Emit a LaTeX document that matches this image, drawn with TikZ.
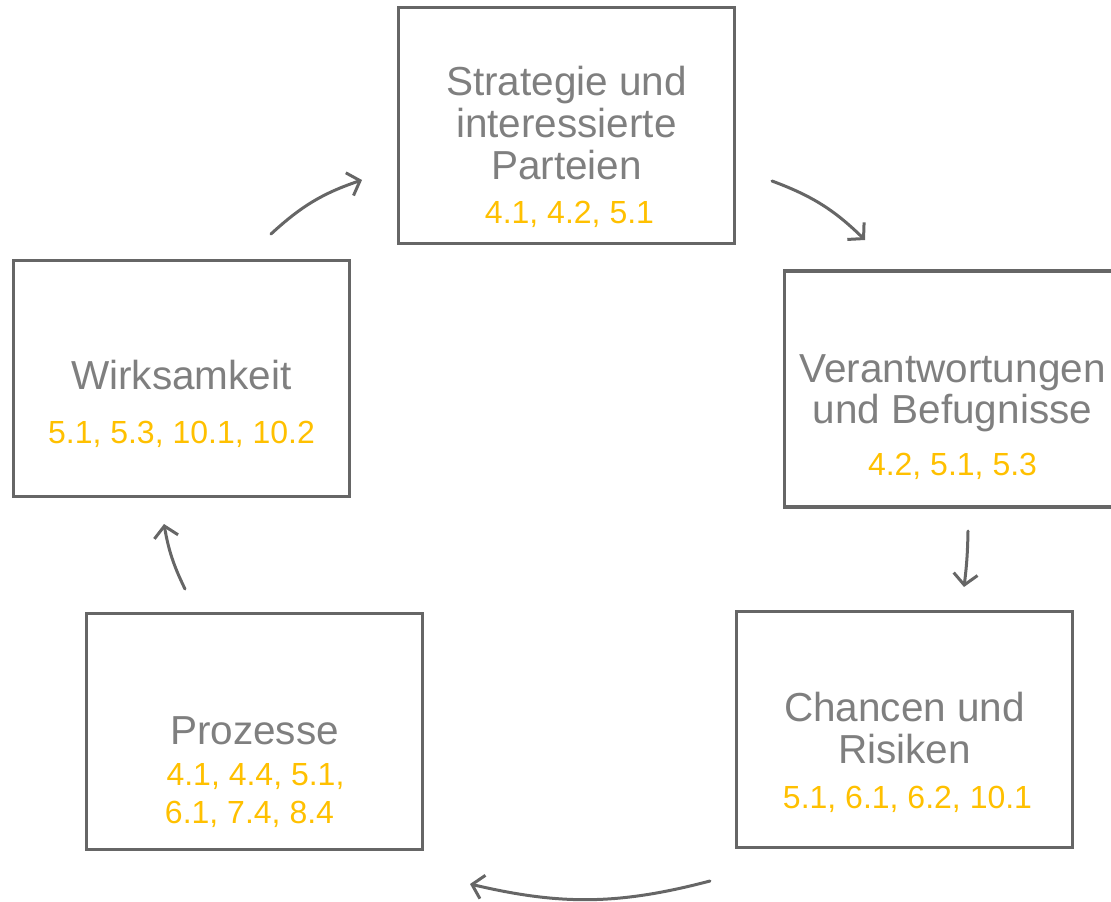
\documentclass[tikz,border=0pt]{standalone}
\usepackage{fontspec}
\setmainfont{Liberation Sans}
\usetikzlibrary{arrows.meta}
\definecolor{boxgray}{HTML}{666666}
\definecolor{txtgray}{HTML}{7F7F7F}
\definecolor{numyellow}{HTML}{FFC000}
\tikzset{
  stagebox/.style={draw=boxgray, line width=3.2pt, minimum width=336pt, minimum height=236pt, inner sep=0pt},
  ttl/.style={anchor=base, text=txtgray, inner sep=0pt, font=\fontsize{40.5}{42}\selectfont},
  num/.style={anchor=base, text=numyellow, inner sep=0pt, font=\fontsize{32}{36}\selectfont},
  flow/.style={draw=boxgray, line width=3pt, line cap=round, -{Straight Barb[length=11pt,width=24pt,line width=3pt]}}
}
\begin{document}
\begin{tikzpicture}[x=1pt,y=-1pt]
\useasboundingbox (0,0) rectangle (1111,902);
% boxes
\node[stagebox] (top) at (566.5,125.5) {};
\node[stagebox] (right) at (952.5,389) {};
\node[stagebox] (br) at (904.5,729.5) {};
\node[stagebox] (bl) at (254.5,731.5) {};
\node[stagebox] (left) at (181.5,378.5) {};
% texts
\node[ttl] (t1) at (566.5,95) {Strategie und};
\node[ttl] (t2) at (566.5,137) {interessierte};
\node[ttl] (t3) at (566.5,179) {Parteien};
\node[num] (t4) at (569.5,223) {4.1, 4.2, 5.1};
\node[ttl] (r1) at (952.5,382) {Verantwortungen};
\node[ttl] (r2) at (952.5,423) {und Befugnisse};
\node[num] (r3) at (952.5,475) {4.2, 5.1, 5.3};
\node[ttl] (b1) at (904.5,721) {Chancen und};
\node[ttl] (b2) at (904.5,763) {Risiken};
\node[num] (b3) at (907.5,808) {5.1, 6.1, 6.2, 10.1};
\node[ttl] (p1) at (254.5,744) {Prozesse};
\node[num] (p2) at (255.5,785) {4.1, 4.4, 5.1,};
\node[num] (p3) at (249.5,823) {6.1, 7.4, 8.4};
\node[ttl] (w1) at (181.5,389) {Wirksamkeit};
\node[num] (w2) at (181.5,443) {5.1, 5.3, 10.1, 10.2};
% arrow end points
\coordinate (a1s) at (271,234);
\coordinate (a1e) at (362,180);
\coordinate (a2s) at (772,181);
\coordinate (a2e) at (865,240);
\coordinate (a3s) at (968,531);
\coordinate (a3e) at (964,587);
\coordinate (a4s) at (710,881);
\coordinate (a4e) at (470,884);
\coordinate (a5s) at (185,589);
\coordinate (a5e) at (164,524);
\draw[flow] (a1s) to[bend left=12] (a1e);
\draw[flow] (a2s) to[bend left=12] (a2e);
\draw[flow] (a3s) to[bend left=3] (a3e);
\draw[flow] (a4s) to[bend left=14] (a4e);
\draw[flow] (a5s) to[bend left=8] (a5e);
\end{tikzpicture}
\end{document}
